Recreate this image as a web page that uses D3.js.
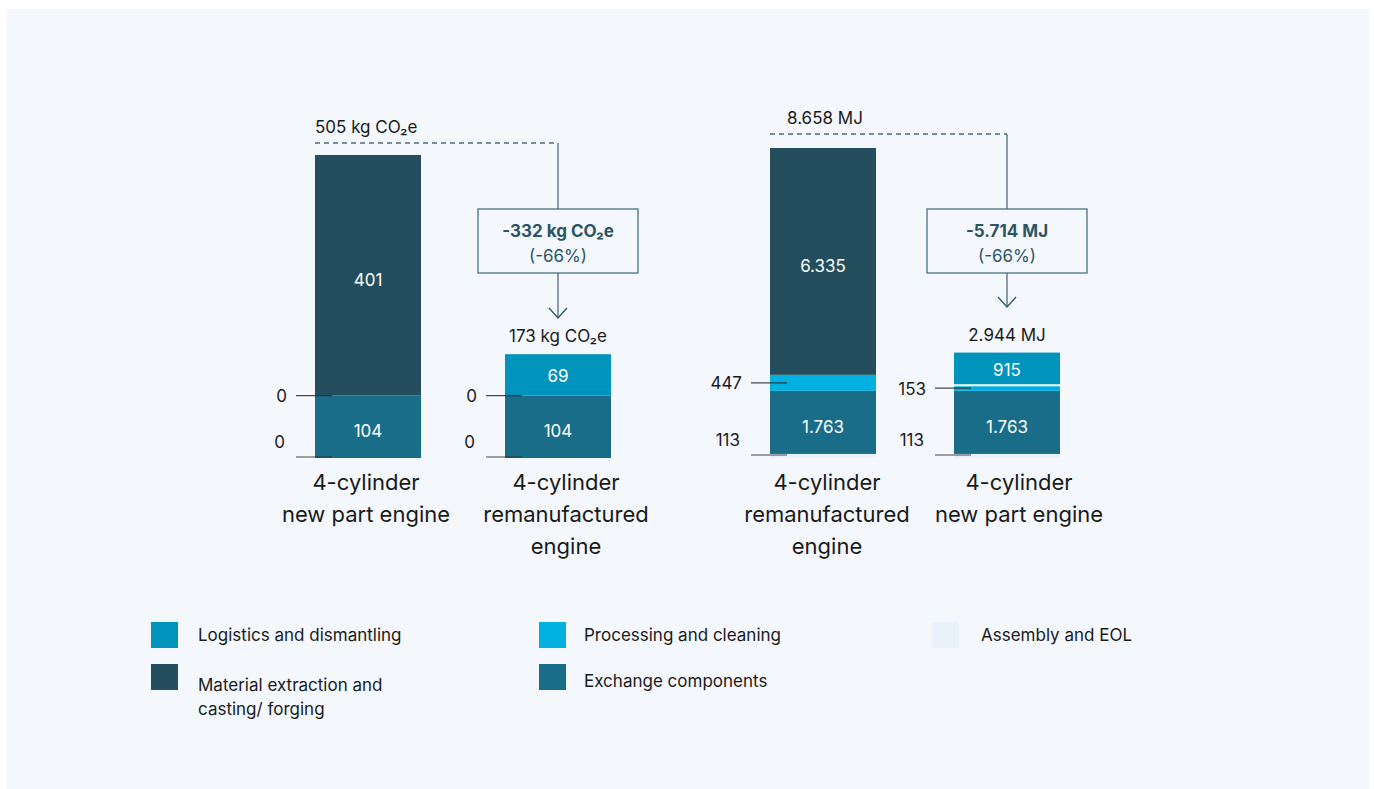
<!DOCTYPE html>
<html>
<head>
<meta charset="utf-8">
<script src="https://cdn.jsdelivr.net/npm/d3@7"></script>
<style>
  body { margin: 0; background: #ffffff; }
  svg text { font-family: "Inter", "Lato", sans-serif; }
</style>
</head>
<body>
<div id="chartView"></div>
<script>
// segment order, bottom -> top
var segments = ["Assembly and EOL", "Exchange components", "Processing and cleaning", "Logistics and dismantling", "Material extraction and casting/ forging"];
var segColor = ["#e9f1fa", "#1a6d88", "#00b0e0", "#0093bb", "#244e5d"];

// left chart: kg CO2e
var co2Bars = ["4-cylinder|new part engine", "4-cylinder|remanufactured|engine"];
var co2Values = [
    [0, 104, 0, 0, 401],
    [0, 104, 0, 69, 0]
];
var co2Labels = [
    ["0", "104", "0", "", "401"],
    ["0", "104", "0", "69", ""]
];
var co2Totals = ["505 kg CO₂e", "173 kg CO₂e"];
var co2Diff = ["-332 kg CO₂e", "(-66%)"];

// right chart: MJ
var mjBars = ["4-cylinder|remanufactured|engine", "4-cylinder|new part engine"];
var mjValues = [
    [113, 1763, 447, 0, 6335],
    [113, 1763, 153, 915, 0]
];
var mjLabels = [
    ["113", "1.763", "447", "", "6.335"],
    ["113", "1.763", "153", "915", ""]
];
var mjTotals = ["8.658 MJ", "2.944 MJ"];
var mjDiff = ["-5.714 MJ", "(-66%)"];

var legendCols = [[3, 4], [2, 1], [0]];

var width = 1374, height = 789;
var svg = d3.select("#chartView").append("svg")
    .attr("width", width)
    .attr("height", height);

svg.append("rect")
    .attr("x", 7).attr("y", 9)
    .attr("width", 1362).attr("height", 780)
    .attr("fill", "#f4f7fc");

var baseY = 458;
var barW = 106;

function DrawChart(bars, values, labels, totals, diff, xStart, gap, maxVal, topY, arrowTip, labelDx, dashGap) {
    let g = svg.append("g");
    let xScale = function (i) { return xStart + i * (barW + gap); };
    let yScale = d3.scaleLinear()
        .domain([0, maxVal])
        .range([baseY, topY]);

    for (let i in values) {
        i = parseInt(i);
        let stack = d3.cumsum(values[i]);
        let x0 = xScale(i);
        let cx = x0 + barW / 2;
        for (let j = 0; j < values[i].length; j++) {
            let y1 = yScale(stack[j]);
            let y0 = yScale(stack[j] - values[i][j]);
            if (values[i][j] > 0) {
                g.append("rect")
                    .attr("x", x0)
                    .attr("y", y1)
                    .attr("width", barW)
                    .attr("height", y0 - y1)
                    .attr("fill", segColor[j]);
            }
            // values inside the bar
            if ((j == 1 || j == 3 || j == 4) && labels[i][j] != "") {
                g.append("text")
                    .attr("x", cx)
                    .attr("y", (y0 + y1) / 2)
                    .attr("dy", j == 3 ? "0.4em" : "0.6em")
                    .attr("text-anchor", "middle")
                    .attr("font-size", 17)
                    .attr("fill", "#ffffff")
                    .text(labels[i][j]);
            }
        }
        // separator between processing and logistics
        if (values[i][2] > 0 && values[i][3] > 0) {
            g.append("line")
                .attr("x1", x0).attr("x2", x0 + barW)
                .attr("y1", yScale(stack[2])).attr("y2", yScale(stack[2]))
                .attr("stroke", "#ffffff").attr("stroke-width", 2);
        }
        // tick for processing (mid segment)
        let yp = (yScale(stack[2]) + yScale(stack[1])) / 2;
        g.append("line")
            .attr("x1", x0 - 19).attr("x2", x0 + 17)
            .attr("y1", yp).attr("y2", yp)
            .attr("stroke", "#2a2a2a").attr("stroke-width", 1.2).attr("opacity", 0.85);
        g.append("text")
            .attr("x", x0 - 28).attr("y", yp)
            .attr("dy", "0.38em")
            .attr("text-anchor", "end")
            .attr("font-size", 17)
            .attr("fill", "#1a1a1a")
            .text(labels[i][2]);
        // tick for assembly (bottom)
        let ya = yScale(values[i][0] / 2) - 1;
        g.append("line")
            .attr("x1", x0 - 19).attr("x2", x0 + 17)
            .attr("y1", ya).attr("y2", ya)
            .attr("stroke", "#2a2a2a").attr("stroke-width", 1.2).attr("opacity", 0.85);
        g.append("text")
            .attr("x", x0 - 30).attr("y", ya - 15)
            .attr("dy", "0.38em")
            .attr("text-anchor", "end")
            .attr("font-size", 17)
            .attr("fill", "#1a1a1a")
            .text(labels[i][0]);

        // category label
        let lines = bars[i].split("|");
        let t = g.append("text")
            .attr("text-anchor", "middle")
            .attr("font-size", 22)
            .attr("fill", "#1a1a1a");
        lines.forEach(function (l, k) {
            t.append("tspan")
                .attr("x", cx + labelDx[i])
                .attr("y", 490 + k * 32)
                .text(l);
        });
    }

    // total annotations
    let top0 = yScale(d3.sum(values[0]));
    let top1 = yScale(d3.sum(values[1]));
    let bx = xScale(1) + barW / 2;
    let dashY = top0 - dashGap;
    g.append("text")
        .attr("x", xScale(0) + (dashGap > 12 ? 17 : 0))
        .attr("y", dashY - 10)
        .attr("font-size", 17)
        .attr("fill", "#1a1a1a")
        .text(totals[0]);
    g.append("path")
        .attr("d", "M" + xScale(0) + "," + dashY + "H" + bx)
        .attr("fill", "none")
        .attr("stroke", "#4f6c7a")
        .attr("stroke-width", 1.3)
        .attr("stroke-dasharray", "5,4");
    g.append("path")
        .attr("d", "M" + bx + "," + dashY + "V" + arrowTip)
        .attr("fill", "none")
        .attr("stroke", "#4f6c7a")
        .attr("stroke-width", 1.3);
    g.append("path")
        .attr("d", "M" + (bx - 9) + "," + (arrowTip - 10) + "L" + bx + "," + arrowTip + "L" + (bx + 9) + "," + (arrowTip - 10))
        .attr("fill", "none")
        .attr("stroke", "#2f5566")
        .attr("stroke-width", 1.3);
    g.append("rect")
        .attr("x", bx - 80).attr("y", 209)
        .attr("width", 160).attr("height", 64)
        .attr("fill", "#f4f7fc")
        .attr("stroke", "#4a7283")
        .attr("stroke-width", 1.3);
    g.append("text")
        .attr("x", bx).attr("y", 237)
        .attr("text-anchor", "middle")
        .attr("font-size", 17)
        .attr("font-weight", "bold")
        .attr("fill", "#2b5465")
        .text(diff[0]);
    g.append("text")
        .attr("x", bx).attr("y", 262)
        .attr("text-anchor", "middle")
        .attr("font-size", 17)
        .attr("fill", "#2b5465")
        .text(diff[1]);
    g.append("text")
        .attr("x", bx).attr("y", top1 - 12)
        .attr("text-anchor", "middle")
        .attr("font-size", 17)
        .attr("fill", "#1a1a1a")
        .text(totals[1]);
}

DrawChart(co2Bars, co2Values, co2Labels, co2Totals, co2Diff, 315, 84, 505, 155, 318, [-2, 8], 12);
DrawChart(mjBars, mjValues, mjLabels, mjTotals, mjDiff, 770, 78, 8658, 148, 307, [4, 12], 14);

// legend
var legendX = [151, 539, 932];
var legendTx = [47, 45, 49];
var legendY = [622, 664];
legendCols.forEach(function (col, c) {
    col.forEach(function (s, r) {
        let lg = svg.append("g");
        lg.append("rect")
            .attr("x", legendX[c]).attr("y", legendY[r])
            .attr("width", 27).attr("height", 26)
            .attr("fill", segColor[s]);
        let words = segments[s] == "Material extraction and casting/ forging"
            ? ["Material extraction and", "casting/ forging"] : [segments[s]];
        let t = lg.append("text")
            .attr("font-size", 17)
            .attr("fill", "#1a1a1a");
        words.forEach(function (w, k) {
            t.append("tspan")
                .attr("x", legendX[c] + legendTx[c])
                .attr("y", legendY[r] + (words.length > 1 ? 27 : (r == 1 ? 23 : 19)) + k * 24)
                .text(w);
        });
    });
});
</script>
</body>
</html>
